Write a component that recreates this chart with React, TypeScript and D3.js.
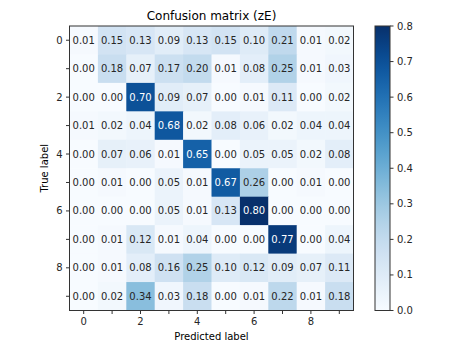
import React from "react";
import * as d3 from "d3";

const labels = [0, 1, 2, 3, 4, 5, 6, 7, 8, 9];
const matrix: number[][] = [
  [0.01, 0.15, 0.13, 0.09, 0.13, 0.15, 0.10, 0.21, 0.01, 0.02],
  [0.00, 0.18, 0.07, 0.17, 0.20, 0.01, 0.08, 0.25, 0.01, 0.03],
  [0.00, 0.00, 0.70, 0.09, 0.07, 0.00, 0.01, 0.11, 0.00, 0.02],
  [0.01, 0.02, 0.04, 0.68, 0.02, 0.08, 0.06, 0.02, 0.04, 0.04],
  [0.00, 0.07, 0.06, 0.01, 0.65, 0.00, 0.05, 0.05, 0.02, 0.08],
  [0.00, 0.01, 0.00, 0.05, 0.01, 0.67, 0.26, 0.00, 0.01, 0.00],
  [0.00, 0.00, 0.00, 0.05, 0.01, 0.13, 0.80, 0.00, 0.00, 0.00],
  [0.00, 0.01, 0.12, 0.01, 0.04, 0.00, 0.00, 0.77, 0.00, 0.04],
  [0.00, 0.01, 0.08, 0.16, 0.25, 0.10, 0.12, 0.09, 0.07, 0.11],
  [0.00, 0.02, 0.34, 0.03, 0.18, 0.00, 0.01, 0.22, 0.01, 0.18],
];
const tickLabels = [0, 2, 4, 6, 8];
const cbTicks = [0.0, 0.1, 0.2, 0.3, 0.4, 0.5, 0.6, 0.7, 0.8];
const title = "Confusion matrix (zE)";

export default function App() {
  const W = 453, H = 345;
  const left = 69.5, right = 353.5, top = 26, bottom = 310.5;
  const x = d3.scaleBand<number>().domain(labels).range([left, right]);
  const y = d3.scaleBand<number>().domain(labels).range([top, bottom]);
  const vmax = 0.8;
  const color = d3.scaleSequential(d3.interpolateBlues).domain([0, vmax]);
  const cbL = 375, cbR = 390;
  const cy = d3.scaleLinear().domain([0, vmax]).range([bottom, top]);
  const font = "DejaVu Sans, sans-serif";
  const gradStops = d3.range(0, 1.0001, 0.05);
  return (
    <svg width={W} height={H} style={{ position: "absolute", left: 0, top: 0, background: "#fff" }} fontFamily={font}>
      <defs>
        <linearGradient id="cb" x1="0" y1="1" x2="0" y2="0">
          {gradStops.map((t) => (
            <stop key={t} offset={t} stopColor={d3.interpolateBlues(t)} />
          ))}
        </linearGradient>
      </defs>
      <text x={(left + right) / 2} y={20} textAnchor="middle" fontSize={12} fill="#000">{title}</text>
      {matrix.map((row, i) =>
        row.map((v, j) => (
          <g key={`${i}-${j}`}>
            <rect x={x(j)!} y={y(i)!} width={x.bandwidth() + 0.5} height={y.bandwidth() + 0.5} fill={color(v)} />
            <text
              x={x(j)! + x.bandwidth() / 2}
              y={y(i)! + y.bandwidth() / 2}
              textAnchor="middle"
              dominantBaseline="central"
              fontSize={10}
              fill={v > vmax / 2 ? "#fff" : "#262626"}
            >
              {v.toFixed(2)}
            </text>
          </g>
        ))
      )}
      <rect x={left} y={top} width={right - left} height={bottom - top} fill="none" stroke="#333" strokeWidth={1} />
      {labels.map((l) => (
        <g key={`xt${l}`}>
          <line x1={x(l)! + x.bandwidth() / 2} x2={x(l)! + x.bandwidth() / 2} y1={bottom} y2={bottom + 3.5} stroke="#333" />
          <line x1={left} x2={left - 3.5} y1={y(l)! + y.bandwidth() / 2} y2={y(l)! + y.bandwidth() / 2} stroke="#333" />
        </g>
      ))}
      {tickLabels.map((l) => (
        <g key={`tl${l}`}>
          <text x={x(l)! + x.bandwidth() / 2} y={bottom + 14.5} textAnchor="middle" fontSize={10} fill="#262626">{l}</text>
          <text x={left - 7} y={y(l)! + y.bandwidth() / 2} textAnchor="end" dominantBaseline="central" fontSize={10} fill="#262626">{l}</text>
        </g>
      ))}
      <text x={(left + right) / 2} y={340} textAnchor="middle" fontSize={10} fill="#000">Predicted label</text>
      <text transform={`translate(48,${(top + bottom) / 2}) rotate(-90)`} textAnchor="middle" fontSize={10} fill="#000">True label</text>
      <rect x={cbL} y={top} width={cbR - cbL} height={bottom - top} fill="url(#cb)" stroke="#333" strokeWidth={1} />
      {cbTicks.map((t) => (
        <g key={`cb${t}`}>
          <line x1={cbR} x2={cbR + 3.5} y1={cy(t)} y2={cy(t)} stroke="#333" />
          <text x={cbR + 7} y={cy(t)} dominantBaseline="central" fontSize={10} fill="#262626">{t.toFixed(1)}</text>
        </g>
      ))}
    </svg>
  );
}
